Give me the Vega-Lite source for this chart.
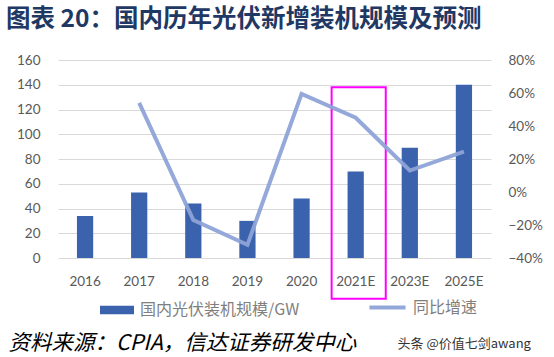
{
  "$schema": "https://vega.github.io/schema/vega-lite/v6.json",
  "width": 433,
  "height": 198,
  "autosize": {"type": "none"},
  "padding": {"left": 58, "top": 60, "right": 63, "bottom": 99},
  "background": "white",
  "config": {
    "view": {"stroke": null},
    "font": "Noto Sans CJK SC",
    "axis": {"labelFont": "Lato", "labelColor": "#595959", "labelFontSize": 13.5, "ticks": false, "domain": false, "labelOverlap": false}
  },
  "title": {
    "text": "图表 20：国内历年光伏新增装机规模及预测",
    "anchor": "start",
    "frame": "group",
    "dx": -52,
    "offset": 30,
    "dy": 33,
    "baseline": "bottom",
    "font": "Noto Sans CJK SC",
    "fontSize": 24.5,
    "fontWeight": "bold",
    "color": "#1F3864"
  },
  "data": {
    "values": [
      {"year": "2016", "cap": 34, "yoy": null},
      {"year": "2017", "cap": 53, "yoy": 0.54},
      {"year": "2018", "cap": 44, "yoy": -0.17},
      {"year": "2019", "cap": 30, "yoy": -0.32},
      {"year": "2020", "cap": 48, "yoy": 0.595},
      {"year": "2021E", "cap": 70, "yoy": 0.45},
      {"year": "2023E", "cap": 89, "yoy": 0.13},
      {"year": "2025E", "cap": 140, "yoy": 0.245}
    ]
  },
  "layer": [
    {
      "layer": [
        {
          "mark": {"type": "bar", "width": {"band": 0.3}},
          "encoding": {
            "x": {
              "field": "year", "type": "nominal", "sort": null,
              "scale": {"paddingInner": 0, "paddingOuter": 0},
              "axis": {
                "labelPadding": 16, "labelAngle": 0,
                "title": "资料来源：CPIA，信达证券研发中心",
                "titleX": -50, "titleY": 85, "titleAlign": "left", "titleBaseline": "middle",
                "titleFont": "Noto Sans CJK SC", "titleFontSize": 21.5, "titleFontStyle": "italic",
                "titleFontWeight": "normal", "titleColor": "#000000"
              }
            },
            "y": {
              "field": "cap", "type": "quantitative",
              "scale": {"domain": [0, 160]},
              "axis": {"title": null, "values": [0, 20, 40, 60, 80, 100, 120, 140, 160], "labelOverlap": false, "labelBound": false, "grid": true, "gridColor": "#D9D9D9", "labelPadding": 18}
            },
            "color": {
              "datum": "国内光伏装机规模/GW",
              "scale": {"range": ["#3B62AD"]},
              "legend": {
                "title": null, "orient": "none", "legendX": 41, "legendY": 232, "padding": 0,
                "symbolType": "M-1,-0.25L1,-0.25L1,0.25L-1,0.25Z", "symbolSize": 1156,
                "labelFont": "Noto Sans CJK SC", "labelFontSize": 16, "labelColor": "#7F7F7F", "labelOffset": 5
              }
            }
          }
        },
        {
          "data": {"values": [{"year": "2021E", "top": 138, "bottom": -33}]},
          "mark": {"type": "rect", "filled": false, "stroke": "#FF00FF", "strokeWidth": 2, "xOffset": 3},
          "encoding": {
            "x": {"field": "year", "type": "nominal", "sort": null},
            "y": {
              "field": "top", "type": "quantitative",
              "axis": {"title": null, "values": [0, 20, 40, 60, 80, 100, 120, 140, 160], "labelOverlap": false, "labelBound": false, "grid": true, "gridColor": "#D9D9D9", "labelPadding": 18}
            },
            "y2": {"field": "bottom"}
          }
        }
      ]
    },
    {
      "mark": {"type": "line", "strokeWidth": 4, "opacity": 0.95},
      "encoding": {
        "x": {"field": "year", "type": "nominal", "sort": null},
        "y": {
          "field": "yoy", "type": "quantitative",
          "scale": {"domain": [-0.4, 0.8]},
          "axis": {
            "orient": "right", "format": ".0%", "values": [-0.4, -0.2, 0, 0.2, 0.4, 0.6, 0.8], "labelOverlap": false, "grid": false, "labelPadding": 17,
            "title": "头条 @价值七剑awang", "titleX": -94, "titleY": 283, "titleAngle": 0, "titleAlign": "left", "titleBaseline": "middle",
            "titleFont": "Noto Sans CJK SC", "titleFontSize": 13, "titleFontWeight": "normal", "titleColor": "#333333"
          }
        },
        "stroke": {
          "datum": "同比增速",
          "scale": {"range": ["#8EA3D7"]},
          "legend": {
            "title": null, "orient": "none", "legendX": 309, "legendY": 227, "padding": 0,
            "symbolType": "stroke", "symbolSize": 1300, "symbolStrokeWidth": 4,
            "labelFont": "Noto Sans CJK SC", "labelFontSize": 16, "labelColor": "#7F7F7F", "labelOffset": 5
          }
        }
      }
    }
  ],
  "resolve": {"scale": {"y": "independent"}}
}
